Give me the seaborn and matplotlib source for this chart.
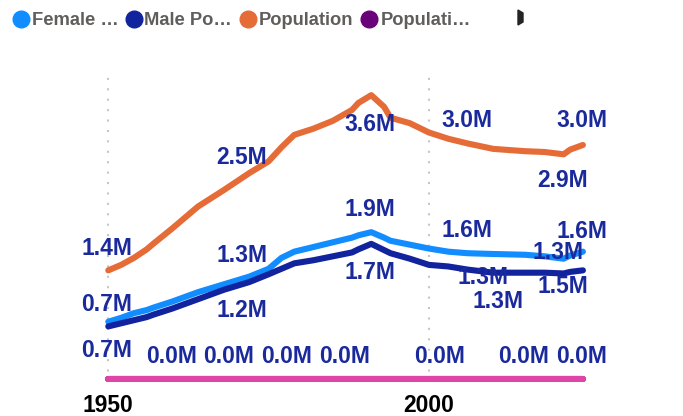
import matplotlib
matplotlib.use("Agg")
import matplotlib.pyplot as plt
import seaborn as sns
import pandas as pd
from matplotlib.lines import Line2D
from matplotlib.patches import Polygon

# ---------------- data ----------------
years = [1950, 1952, 1954, 1956, 1957, 1960, 1964, 1968, 1972, 1975, 1977, 1979,
         1982, 1985, 1988, 1989, 1991, 1993, 1994, 1997, 2000, 2003, 2006, 2010,
         2015, 2018, 2021, 2022, 2024]
female = [0.74, 0.79, 0.85, 0.89, 0.92, 1.00, 1.12, 1.22, 1.32, 1.42, 1.56, 1.64,
          1.70, 1.76, 1.82, 1.85, 1.89, 1.82, 1.78, 1.73, 1.68, 1.64, 1.62, 1.61,
          1.60, 1.58, 1.55, 1.59, 1.64]
male = [0.68, 0.72, 0.76, 0.80, 0.83, 0.91, 1.03, 1.15, 1.25, 1.35, 1.42, 1.49,
        1.53, 1.58, 1.63, 1.67, 1.74, 1.66, 1.62, 1.55, 1.47, 1.45, 1.41, 1.37,
        1.37, 1.37, 1.36, 1.38, 1.40]
population = [1.40, 1.47, 1.56, 1.67, 1.74, 1.94, 2.22, 2.43, 2.65, 2.80, 2.98, 3.14,
              3.22, 3.32, 3.46, 3.55, 3.65, 3.50, 3.36, 3.29, 3.17, 3.09, 3.03, 2.96,
              2.93, 2.92, 2.89, 2.95, 3.01]
population_growth = [0, 0, 0, 0, 0, 0, 0, 0, 0, 0, 0, 0, 0, 0, 0, 0, 0, 0, 0, 0,
                     0, 0, 0, 0, 0, 0, 0, 0, 0]
population_rate = [0, 0, 0, 0, 0, 0, 0, 0, 0, 0, 0, 0, 0, 0, 0, 0, 0, 0, 0, 0,
                   0, 0, 0, 0, 0, 0, 0, 0, 0]

series_names = ["Female Population", "Male Population", "Population",
                "Population Growth", "Population Rate"]
legend_labels = ["Female …", "Male Po…", "Population", "Populati…"]
tick_years = [1950, 2000]
tick_labels = ["1950", "2000"]

# data labels as shown on the chart
label_texts = ["1.4M", "2.5M", "3.6M", "3.0M", "3.0M", "2.9M",
               "1.9M", "1.6M", "1.6M", "1.3M", "1.3M", "1.5M", "1.3M",
               "1.7M", "1.3M", "1.2M", "0.7M", "0.7M",
               "0.0M", "0.0M", "0.0M", "0.0M", "0.0M", "0.0M", "0.0M"]

colors = ["#118DFF", "#12239E", "#E66C37", "#6B007B", "#E044A7"]

# ---------------- frame ----------------
frames = []
for name, vals in zip(series_names, [female, male, population,
                                     population_growth, population_rate]):
    frames.append(pd.DataFrame({"year": years, "value": vals, "series": name}))
df = pd.concat(frames, ignore_index=True)

sns.set_theme(style="white")
plt.rcParams["font.family"] = ["Liberation Sans", "DejaVu Sans"]

fig = plt.figure(figsize=(6.83, 4.16), dpi=100)
W, H = 683, 416
ax = fig.add_axes([76.2 / W, (H - 381.7) / H, (621.4 - 76.2) / W, (381.7 - 71) / H])

sns.lineplot(data=df, x="year", y="value", hue="series", hue_order=series_names,
             palette=dict(zip(series_names, colors)), linewidth=4.4,
             estimator=None, legend=False, ax=ax,
             solid_capstyle="round", solid_joinstyle="round")

ax.set_xlim(1945, 2030)
ax.set_ylim(-0.03, 3.96)
ax.set_xlabel("")
ax.set_ylabel("")
ax.set_yticks([])
ax.set_xticks(tick_years)
ax.set_xticklabels(tick_labels, fontsize=16.5, fontweight="bold", color="black")
ax.tick_params(axis="x", length=0, pad=9)
ax.grid(axis="x", color="#C8C6C4", linewidth=1.5, linestyle=(0, (1, 4)))
ax.grid(axis="y", visible=False)
for s in ax.spines.values():
    s.set_visible(False)
ax.set_axisbelow(True)
ax.set_facecolor("white")

# data labels placed from their pixel positions in the original layout
px_positions = [(106.7, 246), (241.7, 155), (370, 121.7), (466.7, 118.3), (581.7, 118.3),
                (562.7, 178.3), (370, 206.7), (466.7, 228.3), (581.7, 229.3), (558.3, 250),
                (482.7, 275), (562.7, 284), (498.3, 299.3), (370, 270), (241.7, 253.3),
                (241.7, 308.3), (106.7, 301.7), (106.7, 348.3),
                (171.7, 354), (228.3, 354), (286.7, 354), (345, 354), (440, 354),
                (523.3, 354), (581.7, 354)]
for txt, (px, py) in zip(label_texts, px_positions):
    yr = 1950 + (px - 108.3) / 6.414
    val = (379.3 - py) / 77.9
    ax.text(yr, val, txt, ha="center", va="center_baseline", fontsize=16.5,
            fontweight="bold", color="#1A2A9C", zorder=5)

# legend row
leg_circle_x = [20.5, 133.5, 248, 369.3]
leg_text_x = [31.5, 144.5, 259, 380.5]
for cx, tx, lab, col in zip(leg_circle_x, leg_text_x, legend_labels, colors[:4]):
    fig.add_artist(Line2D([cx / W], [1 - 19 / H], marker="o", markersize=12,
                          color=col, linestyle="", transform=fig.transFigure))
    fig.text(tx / W, 1 - 18.5 / H, lab, ha="left", va="center_baseline",
             fontsize=13.2, fontweight="bold", color="#605E5C")
# partially visible legend scroll arrow
fig.add_artist(Polygon([[518 / W, 1 - 10 / H], [523 / W, 1 - 13 / H],
                        [523 / W, 1 - 22 / H], [518 / W, 1 - 25 / H]],
                       closed=True, color="#252423", transform=fig.transFigure))

fig.savefig("out.png", dpi=100, facecolor="white")
